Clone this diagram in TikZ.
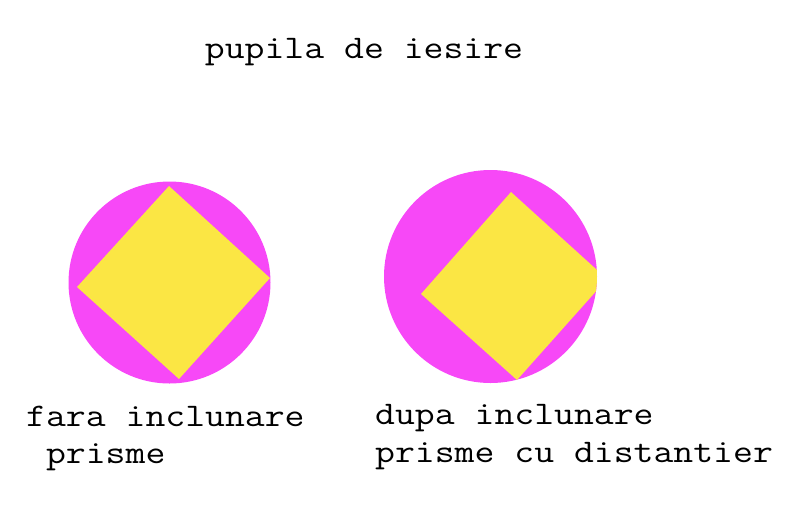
\documentclass[tikz,border=0pt]{standalone}
\usepackage{fontspec}
\setmonofont[FakeStretch=1.17]{Latin Modern Mono}
\definecolor{pupilmag}{HTML}{F748F7}
\definecolor{prismyel}{HTML}{FBE644}

\begin{document}
\begin{tikzpicture}[x=1pt,y=-1pt,
        lbl/.style={font=\ttfamily\fontsize{33}{37}\selectfont, inner sep=0pt, align=left},
        pupil/.style={fill=pupilmag},
        prism/.style={fill=prismyel}]
        \useasboundingbox (0,0) rectangle (801,515);
        % titlu
        \node[lbl, anchor=base] (titlu) at (364,58) {pupila de iesire};
        % fara inclunare
        \fill[pupil] (169.5,282.5) circle (101);
        \begin{scope}
                \clip (169.5,282.5) circle (101);
                \fill[prism] (169,186) -- (270,278) -- (179,379) -- (77,287) -- cycle;
        \end{scope}
        % dupa inclunare
        \fill[pupil] (490.5,276.5) circle (106.5);
        \begin{scope}
                \clip (490.5,276.5) circle (106.5);
                \fill[prism] (511,192) -- (607,279) -- (517,380) -- (421,294) -- cycle;
        \end{scope}
        \node[lbl, anchor=base west] (stanga1) at (26,426) {fara inclunare};
        \node[lbl, anchor=base west] (stanga2) at (26,463) {\ prisme};
        \node[lbl, anchor=base west] (dreapta1) at (375,424) {dupa inclunare};
        \node[lbl, anchor=base west] (dreapta2) at (375,462) {prisme cu distantier};
\end{tikzpicture}
\end{document}
